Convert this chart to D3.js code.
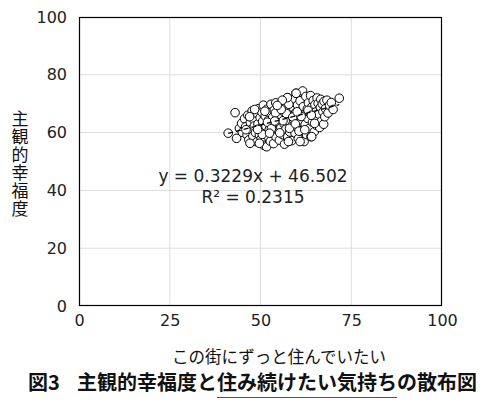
<!DOCTYPE html>
<html><head><meta charset="utf-8">
<script src="https://cdn.jsdelivr.net/npm/d3@7"></script>
<style>body{margin:0;background:#fff}svg{display:block}</style>
</head><body>
<script>
const xTicks = [0, 25, 50, 75, 100];
const yTicks = [0, 20, 40, 60, 80, 100];
const slope = 0.3229, intercept = 46.502;
const eqLabel = "y = 0.3229x + 46.502";
const r2Label = "R² = 0.2315";
const xTitle = "この街にずっと住んでいたい";
const yTitle = "主観的幸福度";
const figNo = "図3";
const titlePre = "主観的幸福度と";
const titleUnder = "住み続けたい気持ち";
const titlePost = "の散布図";
const points = [
[41.1,59.8],[43.0,66.9],[43.4,58.0],[44.2,61.5],[44.8,63.2],[45.0,60.1],
[45.6,64.8],[45.9,62.0],[46.3,59.2],[46.5,66.0],[46.8,57.5],[47.2,63.5],[47.4,61.0],[47.7,67.5],[47.9,58.8],
[48.1,64.6],[48.3,62.3],[48.6,60.0],[48.8,66.8],[49.0,56.8],[49.3,63.0],[49.5,68.3],[49.7,59.2],[49.9,65.2],
[50.0,61.6],[50.2,57.8],[50.4,67.0],[50.6,63.9],[50.8,69.5],[50.9,55.6],[51.1,60.5],[51.3,65.8],[51.5,62.2],
[51.7,55.1],[51.8,68.1],[52.0,58.7],[52.2,64.3],[52.4,61.0],[52.6,66.9],[52.7,57.0],[52.9,69.8],[53.1,63.0],
[53.3,59.8],[53.4,65.4],[53.6,56.2],[53.8,67.8],[54.0,62.1],[54.2,70.3],[54.3,58.5],[54.5,64.7],[54.7,60.9],
[54.9,66.3],[55.0,68.9],[55.2,57.4],[55.4,63.5],[55.6,61.7],[55.8,65.9],[55.9,70.5],[56.1,59.3],[56.3,67.3],
[56.5,63.0],[56.6,56.0],[56.8,69.2],[57.0,61.2],[57.2,65.0],[57.4,72.1],[57.5,58.6],[57.7,67.9],[57.9,63.8],
[58.1,60.2],[58.2,70.8],[58.4,66.1],[58.6,57.2],[58.8,62.6],[59.0,68.6],[59.1,64.5],[59.3,71.6],[59.5,59.9],
[59.7,66.9],[59.8,73.6],[60.0,62.0],[60.2,69.5],[60.4,57.9],[60.5,65.3],[60.7,63.4],[60.9,71.0],[61.1,67.5],
[61.3,60.6],[61.4,64.0],[61.6,74.4],[61.8,69.0],[62.0,56.9],[62.1,66.2],[62.3,62.8],[62.5,72.5],[62.7,59.3],
[62.9,68.2],[63.0,64.9],[63.2,70.3],[63.4,61.4],[63.6,66.8],[63.8,72.8],[63.9,58.6],[64.1,68.8],[64.3,63.6],
[64.5,71.1],[64.7,65.8],[64.8,60.3],[65.0,69.7],[65.2,67.1],[65.4,62.5],[65.6,72.0],[65.7,64.6],[65.9,70.1],
[66.1,66.4],[66.3,61.8],[66.5,68.7],[66.6,71.5],[66.8,64.0],[67.0,69.9],[67.2,67.2],[67.4,62.9],[67.5,70.8],
[67.7,65.5],[67.9,68.3],[68.3,71.2],[68.6,66.8],[69.0,69.5],[69.5,70.4],[70.0,68.0],[71.7,71.9],
[50.5,59.4],[51.9,63.6],[53.0,61.4],[54.1,66.8],[55.3,59.9],[56.2,64.1],[57.1,66.6],[58.0,61.5],[58.9,65.4],
[59.6,63.0],[60.6,60.5],[61.2,65.6],[62.2,61.0],[63.1,67.7],[64.0,66.0],[64.9,63.2],[60.1,67.2],[57.8,69.8],
[55.7,68.0],[53.9,64.0],[52.5,59.8],[49.2,61.1],[47.0,65.5],[46.0,61.0],[49.7,56.3],[47.1,56.3],[57.7,56.9],
[60.9,56.9],[64.1,58.6],[57.4,72.1],[59.8,73.6],[56.0,71.2],[54.6,69.4],[51.2,67.4],[48.4,68.0]
];

const W = 491, H = 409;
const svg = d3.select("body").append("svg").attr("width", W).attr("height", H);
const L = 79, R = 442, T = 17, B = 306;
const x = d3.scaleLinear().domain([0, 100]).range([L, R]);
const y = d3.scaleLinear().domain([0, 100]).range([B, T]);
const font = "'Noto Sans CJK JP', 'Noto Sans', sans-serif";
const numFont = "'DejaVu Sans', 'Noto Sans', sans-serif";

// grid
svg.append("g").selectAll("line").data(xTicks.slice(1, -1)).join("line")
  .attr("x1", d => x(d)).attr("x2", d => x(d)).attr("y1", T).attr("y2", B)
  .attr("stroke", "#dcdcdc").attr("stroke-width", 1);
svg.append("g").selectAll("line").data(yTicks.slice(1, -1)).join("line")
  .attr("y1", d => y(d)).attr("y2", d => y(d)).attr("x1", L).attr("x2", R)
  .attr("stroke", "#dcdcdc").attr("stroke-width", 1);

// axes (labels only)
const xAxis = d3.axisBottom(x).tickValues(xTicks).tickSize(0).tickPadding(9);
const gx = svg.append("g").attr("transform", `translate(0,${B})`).call(xAxis);
gx.select(".domain").remove();
gx.selectAll("text").attr("font-family", numFont).attr("font-size", 16).attr("fill", "#222");
const yAxis = d3.axisLeft(y).tickValues(yTicks).tickSize(0).tickPadding(12);
const gy = svg.append("g").attr("transform", `translate(${L},0)`).call(yAxis);
gy.select(".domain").remove();
gy.selectAll("text").attr("font-family", numFont).attr("font-size", 16).attr("fill", "#222");

// border
svg.append("rect").attr("x", L + 0.5).attr("y", T + 0.5).attr("width", R - L - 1).attr("height", B - T - 1)
  .attr("fill", "none").attr("stroke", "#000").attr("stroke-width", 1.2);

// points
svg.append("g").selectAll("circle").data(points).join("circle")
  .attr("cx", d => x(d[0])).attr("cy", d => y(d[1])).attr("r", 4.3)
  .attr("fill", "#fff").attr("stroke", "#000").attr("stroke-width", 1);

// trendline
const xe = d3.extent(points, d => d[0]);
svg.append("line")
  .attr("x1", x(xe[0])).attr("y1", y(slope * xe[0] + intercept))
  .attr("x2", x(xe[1])).attr("y2", y(slope * xe[1] + intercept))
  .attr("stroke", "#000").attr("stroke-width", 1.3).attr("stroke-dasharray", "5,3");

// equation
svg.append("text").attr("x", 253).attr("y", 182).attr("text-anchor", "middle")
  .attr("font-family", numFont).attr("font-size", 17).attr("fill", "#222").text(eqLabel);
svg.append("text").attr("x", 253).attr("y", 203).attr("text-anchor", "middle")
  .attr("font-family", numFont).attr("font-size", 17).attr("fill", "#222").text(r2Label);

// y title vertical (single text, vertical writing mode)
svg.append("text").attr("x", 20).attr("y", 110)
  .attr("font-family", font).attr("font-size", 17).attr("fill", "#111")
  .style("writing-mode", "vertical-rl").style("text-orientation", "upright")
  .attr("letter-spacing", 1)
  .text(yTitle);

// x title
svg.append("text").attr("x", 279).attr("y", 363).attr("text-anchor", "middle")
  .attr("font-family", font).attr("font-size", 16.5).attr("fill", "#111").text(xTitle);

// figure title
svg.append("text").attr("x", 28).attr("y", 390).attr("font-family", font).attr("font-size", 20)
  .attr("font-weight", "bold").attr("fill", "#111").text(figNo);
const tt = svg.append("text").attr("x", 77).attr("y", 390).attr("font-family", font).attr("font-size", 20)
  .attr("font-weight", "bold").attr("fill", "#111");
tt.append("tspan").text(titlePre);
tt.append("tspan").text(titleUnder);
tt.append("tspan").text(titlePost);
const tn = tt.node();
const s = tn.getStartPositionOfChar(titlePre.length);
const e = tn.getEndPositionOfChar(titlePre.length + titleUnder.length - 1);
svg.append("line").attr("x1", s.x).attr("x2", e.x).attr("y1", 397.5).attr("y2", 397.5)
  .attr("stroke", "#555").attr("stroke-width", 1.2);
</script>
</body></html>
